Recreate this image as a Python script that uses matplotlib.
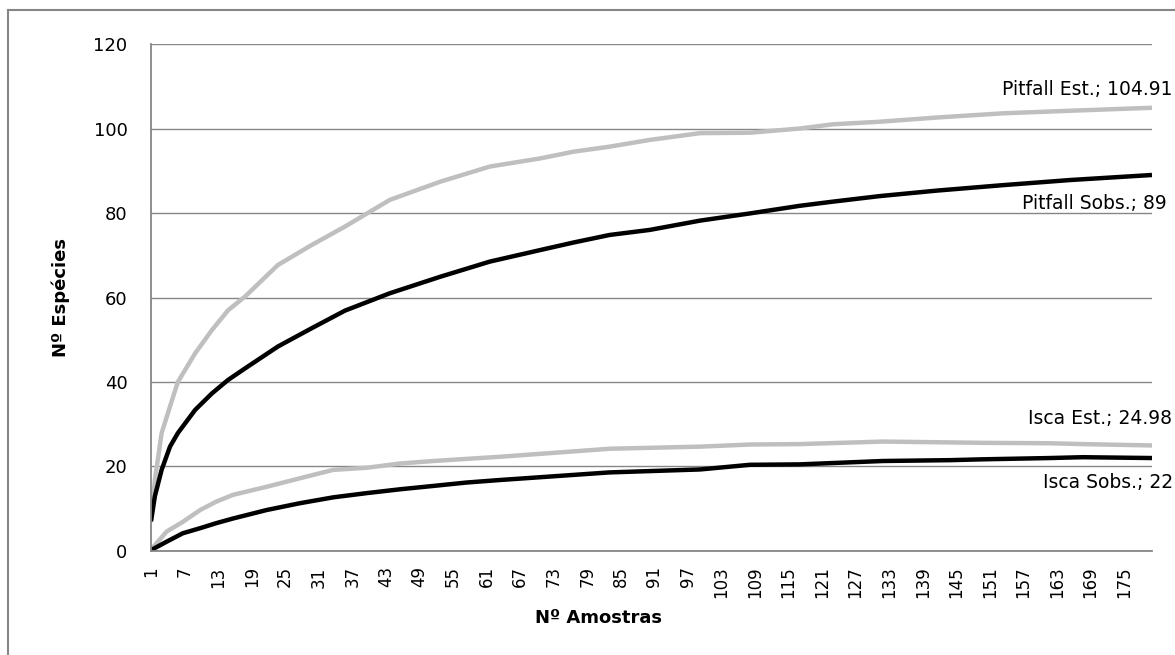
import matplotlib
matplotlib.use('Agg')
import matplotlib.pyplot as plt
from matplotlib.lines import Line2D

plt.rcParams['font.family'] = ['DejaVu Sans']

# --- Data (species accumulation, read at selected sample counts) ---
pitfall_x = [1, 1.7, 2.9, 4.4, 5.8, 8.9, 11.9, 14.8, 17.8, 23.7, 29.7, 35.7,
             43.7, 52.7, 61.6, 70.5, 76.5, 83, 90.2, 99.2, 108.1, 117, 123,
             131.3, 141.5, 153.4, 165.3, 180]
pitfall_est = [7.4, 16.8, 27.9, 34.2, 40.0, 46.8, 52.3, 57.0, 60.2, 67.7, 72.4, 76.8,
               83.1, 87.4, 91.0, 92.9, 94.5, 95.7, 97.3, 98.9, 99.0, 100.0, 101.0,
               101.6, 102.6, 103.6, 104.2, 104.91]
pitfall_sobs = [7.0, 13.0, 19.2, 24.7, 27.9, 33.4, 37.3, 40.5, 43.2, 48.4, 52.7, 56.9,
                61.0, 64.9, 68.5, 71.2, 73.0, 74.8, 76.0, 78.2, 79.9, 81.7, 82.7,
                84.0, 85.3, 86.6, 87.8, 89]

isca_x = [1, 3.8, 6.7, 9.8, 12.7, 15.7, 21.7, 27.6, 33.6, 39.6, 45.5, 51.5,
          57.4, 63.4, 83, 99.2, 108.1, 117, 131.9, 143.9, 149.8, 161.7, 167.6, 180]
isca_est = [0.3, 4.6, 6.9, 9.7, 11.7, 13.3, 15.2, 17.2, 19.2, 19.7, 20.7, 21.3,
            21.8, 22.3, 24.2, 24.7, 25.2, 25.3, 25.9, 25.7, 25.6, 25.5, 25.3, 24.98]
isca_sobs = [0.2, 2.2, 4.2, 5.4, 6.6, 7.7, 9.7, 11.3, 12.7, 13.7, 14.6, 15.4,
             16.2, 16.8, 18.6, 19.3, 20.4, 20.5, 21.3, 21.5, 21.7, 22.0, 22.2, 22]

x_ticks = list(range(1, 176, 6))

fig = plt.figure(figsize=(11.75, 6.55), dpi=100)
ax = fig.add_axes([0.1285, 0.1588, 0.8519, 0.7740])

grey = '#bfbfbf'
ax.plot(pitfall_x, pitfall_est, color=grey, lw=3.2, solid_capstyle='butt')
ax.plot(pitfall_x, pitfall_sobs, color='black', lw=3.2, solid_capstyle='butt')
ax.plot(isca_x, isca_est, color=grey, lw=3.2, solid_capstyle='butt')
ax.plot(isca_x, isca_sobs, color='black', lw=3.2, solid_capstyle='butt')

# end-of-series labels
labels = [
    (pitfall_x[-1], pitfall_est[-1], 'Pitfall Est.; 104.91', (21, 18)),
    (pitfall_x[-1], pitfall_sobs[-1], 'Pitfall Sobs.; 89', (15, -29)),
    (isca_x[-1], isca_est[-1], 'Isca Est.; 24.98', (20, 27)),
    (isca_x[-1], isca_sobs[-1], 'Isca Sobs.; 22', (21, -24)),
]
for x, y, txt, off in labels:
    ax.annotate(txt, xy=(x, y), xytext=off, textcoords='offset pixels',
                ha='right', va='center', fontsize=13.5, color='black',
                annotation_clip=False)

ax.set_xlim(1, 180)
ax.set_ylim(0, 120)
ax.set_yticks(range(0, 121, 20))
ax.set_xticks(x_ticks)
ax.set_xticklabels([str(t) for t in x_ticks], rotation=90, fontsize=12)
ax.tick_params(axis='y', labelsize=13, length=0, pad=17)
ax.tick_params(axis='x', length=0, pad=11)
ax.grid(axis='y', color='#868686', lw=1)
ax.set_axisbelow(True)
for side in ['top', 'right']:
    ax.spines[side].set_visible(False)
for side in ['left', 'bottom']:
    ax.spines[side].set_color('#868686')
    ax.spines[side].set_linewidth(1.3)

fig.text(0.0515, 0.546, 'Nº Espécies', rotation=90, ha='center', va='center',
         fontsize=13, fontweight='bold')
fig.text(0.509, 0.057, 'Nº Amostras', ha='center', va='center',
         fontsize=13, fontweight='bold')

# chart area border (left and top edges)
fig.add_artist(Line2D([0.0068, 0.0068], [0, 0.985], color='#868686', lw=1.5,
                      transform=fig.transFigure))
fig.add_artist(Line2D([0.0068, 1.0], [0.985, 0.985], color='#868686', lw=1.5,
                      transform=fig.transFigure))

plt.savefig('out.png', dpi=100)
